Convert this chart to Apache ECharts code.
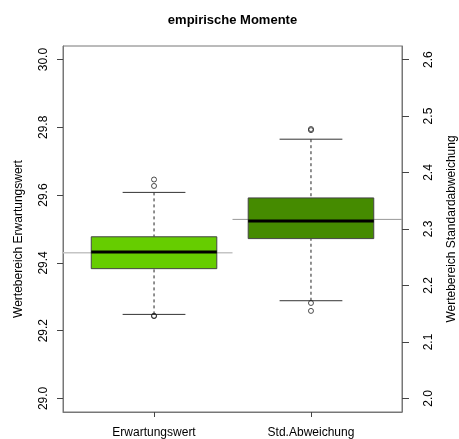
<!DOCTYPE html>
<html>
<head>
<meta charset="utf-8">
<script src="https://cdn.jsdelivr.net/npm/echarts@6/dist/echarts.min.js"></script>
<style>html,body{margin:0;padding:0;background:#fff}#c{width:459px;height:439px}</style>
</head>
<body>
<div id="c"></div>
<script>
// ---- data ----
const categories = ['Erwartungswert', 'Std.Abweichung'];
// [lower whisker, Q1, median, Q3, upper whisker]
const statsMean = [29.248, 29.383, 29.432, 29.477, 29.608];
const statsSd = [2.173, 2.283, 2.314, 2.355, 2.459];
const outliersMean = [29.646, 29.627, 29.244, 29.243];
const outliersSd = [2.477, 2.475, 2.169, 2.155];
const referenceMean = 29.43;
const referenceSd = 2.317;
const leftTicks = [29.0, 29.2, 29.4, 29.6, 29.8, 30.0];
const rightTicks = [2.0, 2.1, 2.2, 2.3, 2.4, 2.5, 2.6];

const FONT = 'Liberation Sans, Arial, sans-serif';
const chart = echarts.init(document.getElementById('c'));

function boxItem(color) {
  return function (params, api) {
    const x = api.value(0);
    const lo = api.value(1), q1 = api.value(2), med = api.value(3), q3 = api.value(4), hi = api.value(5);
    const hw = 0.4, sw = 0.2;
    const pLo = api.coord([x, lo]), pQ1 = api.coord([x, q1]), pMed = api.coord([x, med]);
    const pQ3 = api.coord([x, q3]), pHi = api.coord([x, hi]);
    const bl = api.coord([x - hw, q3]), br = api.coord([x + hw, q1]);
    const sl = api.coord([x - sw, hi])[0], sr = api.coord([x + sw, hi])[0];
    const ml = api.coord([x - hw, med])[0], mr = api.coord([x + hw, med])[0];
    const dash = { stroke: '#222', lineWidth: 1, lineDash: [3, 3] };
    const solid = { stroke: '#333', lineWidth: 1 };
    return {
      type: 'group',
      children: [
        { type: 'line', shape: { x1: pHi[0], y1: pHi[1], x2: pQ3[0], y2: pQ3[1] }, style: dash },
        { type: 'line', shape: { x1: pLo[0], y1: pLo[1], x2: pQ1[0], y2: pQ1[1] }, style: dash },
        { type: 'line', shape: { x1: sl, y1: pHi[1], x2: sr, y2: pHi[1] }, style: solid },
        { type: 'line', shape: { x1: sl, y1: pLo[1], x2: sr, y2: pLo[1] }, style: solid },
        { type: 'rect', shape: { x: bl[0], y: bl[1], width: br[0] - bl[0], height: br[1] - bl[1] },
          style: { fill: color, stroke: '#444', lineWidth: 1 } },
        { type: 'line', shape: { x1: ml, y1: pMed[1], x2: mr, y2: pMed[1] }, style: { stroke: '#000', lineWidth: 3 } }
      ]
    };
  };
}

const option = {
  animation: false,
  backgroundColor: '#fff',
  title: {
    text: 'empirische Momente', left: 232.5, top: 14, padding: 0, textAlign: 'center',
    textStyle: { fontFamily: FONT, fontSize: 13, fontWeight: 'bold', color: '#000' }
  },
  grid: { left: 63, right: 57, top: 46, bottom: 27, outerBoundsMode: 'none', containLabel: false,
    show: true, borderColor: '#777', borderWidth: 1, backgroundColor: 'transparent' },
  xAxis: {
    type: 'value', min: 0.42, max: 2.58,
    axisLine: { show: true, lineStyle: { color: '#777' } },
    splitLine: { show: false },
    axisTick: { show: true, length: 5, customValues: [1, 2], lineStyle: { color: '#444' } },
    axisLabel: { customValues: [1, 2], margin: 15, fontFamily: FONT, fontSize: 12, color: '#000',
      formatter: v => categories[Math.round(v) - 1] }
  },
  yAxis: [
    {
      type: 'value', min: 28.96, max: 30.04, position: 'left',
      name: 'Wertebereich Erwartungswert', nameLocation: 'middle', nameRotate: 90, nameGap: 38,
      nameTextStyle: { fontFamily: FONT, fontSize: 12, color: '#000', padding: [0, 20, 0, 0] },
      axisLine: { show: true, lineStyle: { color: '#777' } },
      splitLine: { show: false },
      axisTick: { show: true, length: 6, customValues: leftTicks, lineStyle: { color: '#444' } },
      axisLabel: { customValues: leftTicks, rotate: 90, margin: 13, fontFamily: FONT, fontSize: 12, color: '#000',
        formatter: v => v.toFixed(1) }
    },
    {
      type: 'value', min: 1.976, max: 2.624, position: 'right',
      name: 'Wertebereich Standardabweichung', nameLocation: 'middle', nameRotate: 90, nameGap: 44,
      nameTextStyle: { fontFamily: FONT, fontSize: 12, color: '#000' },
      axisLine: { show: true, lineStyle: { color: '#777' } },
      splitLine: { show: false },
      axisTick: { show: true, length: 7, customValues: rightTicks, lineStyle: { color: '#444' } },
      axisLabel: { customValues: rightTicks, rotate: 90, margin: 21, fontFamily: FONT, fontSize: 12, color: '#000',
        formatter: v => v.toFixed(1) }
    }
  ],
  series: [
    {
      type: 'line', xAxisIndex: 0, yAxisIndex: 0, symbol: 'none', silent: true,
      data: [[0.42, referenceMean], [1.5, referenceMean]],
      lineStyle: { color: '#c4c4c4', width: 1.5 }, z: 1
    },
    {
      type: 'line', xAxisIndex: 0, yAxisIndex: 1, symbol: 'none', silent: true,
      data: [[1.5, referenceSd], [2.58, referenceSd]],
      lineStyle: { color: '#999', width: 1 }, z: 1
    },
    {
      type: 'custom', xAxisIndex: 0, yAxisIndex: 0, renderItem: boxItem('#66CD00'),
      data: [[1].concat(statsMean)], z: 2
    },
    {
      type: 'custom', xAxisIndex: 0, yAxisIndex: 1, renderItem: boxItem('#458B00'),
      data: [[2].concat(statsSd)], z: 2
    },
    {
      type: 'scatter', xAxisIndex: 0, yAxisIndex: 0, symbol: 'circle', symbolSize: 5,
      itemStyle: { color: 'transparent', borderColor: '#222', borderWidth: 1 },
      data: outliersMean.map(v => [1, v]), z: 3
    },
    {
      type: 'scatter', xAxisIndex: 0, yAxisIndex: 1, symbol: 'circle', symbolSize: 5,
      itemStyle: { color: 'transparent', borderColor: '#222', borderWidth: 1 },
      data: outliersSd.map(v => [2, v]), z: 3
    }
  ]
};
chart.setOption(option);
</script>
</body>
</html>
